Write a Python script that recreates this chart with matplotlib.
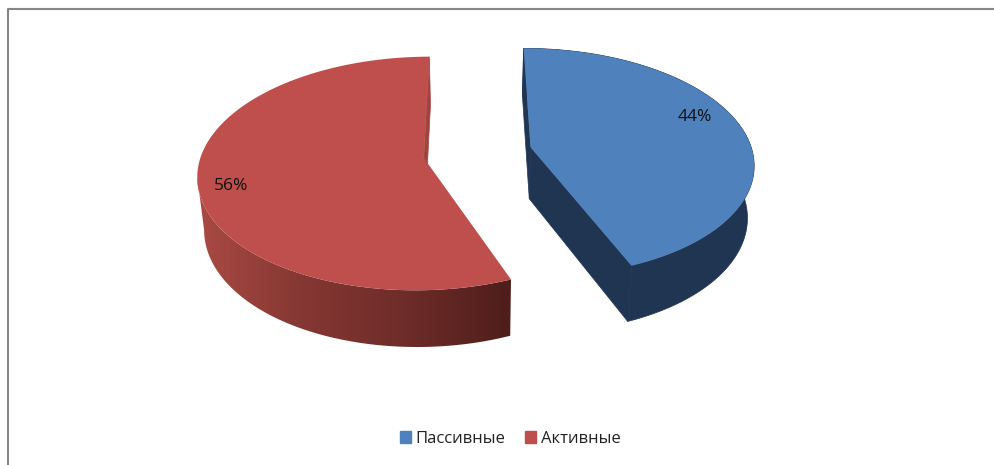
import numpy as np
import matplotlib
matplotlib.use("Agg")
import matplotlib.pyplot as plt
from matplotlib.colors import LinearSegmentedColormap
from matplotlib.patches import Patch, Polygon

labels = ["Пассивные", "Активные"]
values = [44, 56]
value_labels = ["44%", "56%"]
top_colors = ["#4F81BD", "#BE4F4C"]

W, H = 994, 465

# camera for the tilted pie, in pixels
CX, CY = 477.5, 152.5
FX, FY = 222.0, 113.3
PERSP = 0.133
START = -0.004
EXPLODE = 0.245
DEPTH = 53.0


def project(X, Y, z=0.0):
    w = (1 + PERSP * Y) * (1 + 0.025 * z)
    return CX + FX * X / w, CY + (-FY * Y + DEPTH * z) / w


def slice_points(i, n=200):
    edges = START + np.cumsum([0] + values) / sum(values) * 2 * np.pi
    mid = (edges[i] + edges[i + 1]) / 2
    t = np.linspace(edges[i], edges[i + 1], n)
    ox, oy = EXPLODE * np.sin(mid), EXPLODE * np.cos(mid)
    # first point is the apex
    return np.r_[ox, ox + np.sin(t)], np.r_[oy, oy + np.cos(t)]


fig = plt.figure(figsize=(9.94, 4.65), dpi=100)
ax = fig.add_axes([0, 0, 1, 1])

# blue slice
X, Y = slice_points(0)
tx, ty = project(X, Y)
bx, by = project(X, Y, z=1)
dark_blue = "#1F3552"
ax.fill(np.r_[tx[1:], bx[:0:-1]], np.r_[ty[1:], by[:0:-1]], color=dark_blue, lw=0.5)
ax.fill([tx[0], tx[1], bx[1], bx[0]], [ty[0], ty[1], by[1], by[0]], color=dark_blue, lw=0.5)
ax.fill([tx[0], tx[-1], bx[-1], bx[0]], [ty[0], ty[-1], by[-1], by[0]], color=dark_blue, lw=0.5)
ax.fill(tx, ty, color=top_colors[0], lw=0)

# red slice, outer wall has a gradient running left to right
X, Y = slice_points(1)
tx, ty = project(X, Y)
bx, by = project(X, Y, z=1)
wall_cmap = LinearSegmentedColormap.from_list("wall", ["#AA4A43", "#853733", "#6E2C29", "#4E1E1A"])
left = np.argmin(tx[1:]) + 1
wall = Polygon(np.c_[np.r_[tx[1:left + 1], bx[left:0:-1]], np.r_[ty[1:left + 1], by[left:0:-1]]],
               closed=True, fc="none", ec="none")
ax.add_patch(wall)
grad = ax.imshow(np.linspace(0, 1, 256)[None, :], cmap=wall_cmap, aspect="auto", interpolation="bilinear",
                 extent=(tx[left], tx[1], H, 0))
grad.set_clip_path(wall)
ax.fill([tx[0], tx[-1], bx[-1], bx[0]], [ty[0], ty[-1], by[-1], by[0]], color="#A04440", lw=0.5)
ax.fill(tx, ty, color=top_colors[1], lw=0)

ax.set_xlim(0, W)
ax.set_ylim(H, 0)
ax.axis("off")

ax.text(678, 117, value_labels[0], fontsize=12.5, family="Open Sans", va="center", color="#111111")
ax.text(214, 185.5, value_labels[1], fontsize=12.5, family="Open Sans", va="center", color="#111111")

ax.plot([8, 8, W], [H, 9, 9], color="#868686", lw=1.5)

handles = [Patch(color=c) for c in top_colors]
ax.legend(handles, labels, loc="lower center", bbox_to_anchor=(0.513, 0.006), ncol=2, frameon=False,
          prop={"family": "Open Sans", "size": 12}, labelcolor="#222222", handlelength=0.66, handleheight=0.72,
          columnspacing=1.15, handletextpad=0.3)

fig.savefig("out.png", dpi=100)
